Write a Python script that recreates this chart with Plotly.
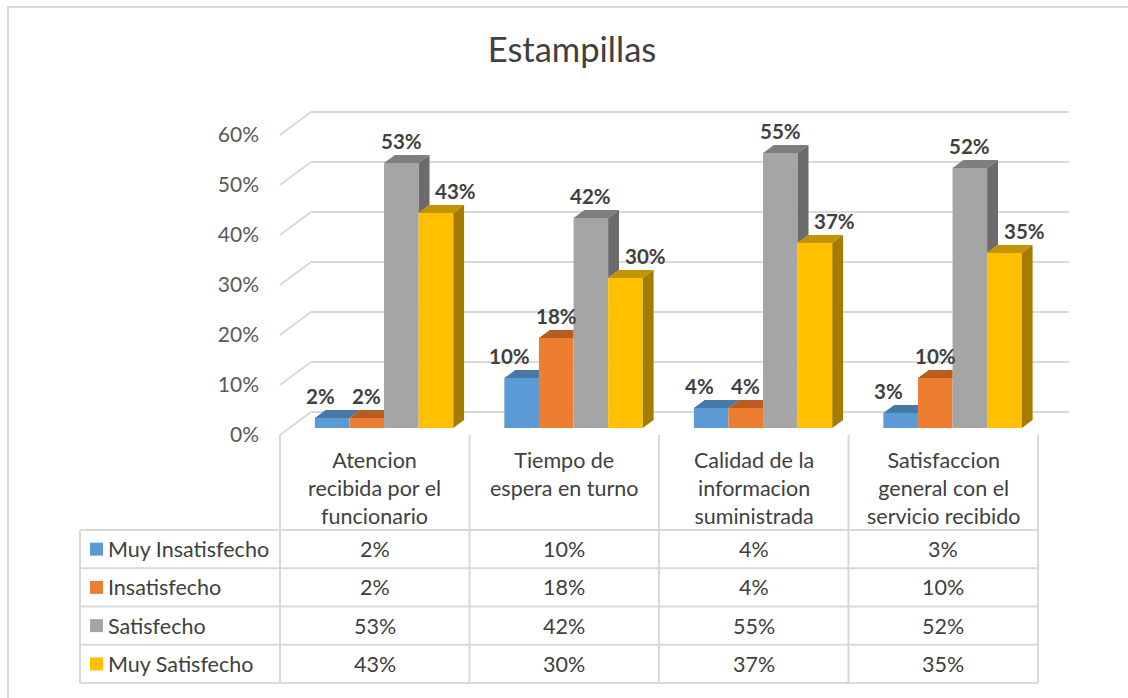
import plotly.graph_objects as go

# ---------------- data ----------------
title_text = "Estampillas"
categories = [
    "Atencion<br>recibida por el<br>funcionario",
    "Tiempo de<br>espera en turno",
    "Calidad de la<br>informacion<br>suministrada",
    "Satisfaccion<br>general con el<br>servicio recibido",
]
series_names = ["Muy Insatisfecho", "Insatisfecho", "Satisfecho", "Muy Satisfecho"]
muy_insatisfecho = [2, 10, 4, 3]
insatisfecho = [2, 18, 4, 10]
satisfecho = [53, 42, 55, 52]
muy_satisfecho = [43, 30, 37, 35]
y_tick_values = [0, 10, 20, 30, 40, 50, 60]
y_tick_labels = ["0%", "10%", "20%", "30%", "40%", "50%", "60%"]

series_values = [muy_insatisfecho, insatisfecho, satisfecho, muy_satisfecho]

# ---------------- style / geometry ----------------
front_colors = ["#5B9BD5", "#ED7D31", "#A5A5A5", "#FFC000"]
top_colors = ["#4679A8", "#B85C22", "#7E7E7E", "#C49300"]
side_colors = ["#3E6A93", "#A2511E", "#6B6B6B", "#A67C00"]
label_dx_px = [-12, 0, 0, 20]

W, H = 1128, 698
U = 189.5            # px per category
PXY = 5.0            # px per percent
X0_PX, Y0_PX = 280, 435
DX = 31 / U          # full depth offset (x data units)
DY = 23 / PXY        # full depth offset (y data units)
FRONT, BACK = 0.30, 0.65
BAR_W = 34.6 / U
PAD = (1 - 4 * BAR_W) / 2
S = FRONT * DY
ddx = (BACK - FRONT) * DX
ddy = (BACK - FRONT) * DY

ROW_PX = 38.25
HDR_BOTTOM_PX = 530
y2_top = (HDR_BOTTOM_PX - Y0_PX) / ROW_PX
y2_bottom = (HDR_BOTTOM_PX - H) / ROW_PX
TABLE_LEFT = (80 - X0_PX) / U
LINE = "#D9D9D9"
TXT = "#404040"
FONT = "Lato"
TABLE_FS = 21.5

fig = go.Figure()

n_cat = len(categories)
n_ser = len(series_names)

for j in range(n_ser):
    vals = series_values[j]
    lefts = [i + PAD + j * BAR_W + FRONT * DX for i in range(n_cat)]
    centers = [l + BAR_W / 2 for l in lefts]
    fig.add_trace(go.Bar(
        x=centers, y=vals, base=[S] * n_cat, width=BAR_W,
        marker=dict(color=front_colors[j], line=dict(width=0)),
        name=series_names[j], showlegend=False, hoverinfo="skip",
    ))
    tx, ty = [], []
    sx, sy = [], []
    for i in range(n_cat):
        a = vals[i]
        A = S + a
        x0 = lefts[i]
        x1 = x0 + BAR_W
        nxt = series_values[j + 1][i] if j + 1 < n_ser else None
        if nxt is not None and nxt >= a + ddy:
            tx += [x0, x1, x1, x0 + ddx, x0, None]
            ty += [A, A, A + ddy, A + ddy, A, None]
        else:
            tx += [x0, x1, x1 + ddx, x0 + ddx, x0, None]
            ty += [A, A, A + ddy, A + ddy, A, None]
        low = 0 if nxt is None else nxt
        if a > low:
            L = S + low
            sx += [x1, x1 + ddx, x1 + ddx, x1, x1, None]
            sy += [L, L + ddy, A + ddy, A, L, None]
    fig.add_trace(go.Scatter(x=tx, y=ty, mode="lines", fill="toself",
                             fillcolor=top_colors[j], line=dict(width=0),
                             showlegend=False, hoverinfo="skip"))
    if sx:
        fig.add_trace(go.Scatter(x=sx, y=sy, mode="lines", fill="toself",
                                 fillcolor=side_colors[j], line=dict(width=0),
                                 showlegend=False, hoverinfo="skip"))

shapes = []
for v in y_tick_values:
    shapes.append(dict(type="line", xref="x", yref="y", x0=DX, x1=n_cat + DX,
                       y0=v + DY, y1=v + DY, line=dict(color=LINE, width=2), layer="below"))
    shapes.append(dict(type="line", xref="x", yref="y", x0=0, x1=DX,
                       y0=v, y1=v + DY, line=dict(color=LINE, width=2), layer="below"))

for r in range(n_ser + 1):
    shapes.append(dict(type="line", xref="x", yref="y2", x0=TABLE_LEFT, x1=n_cat,
                       y0=-r, y1=-r, line=dict(color=LINE, width=2)))
shapes.append(dict(type="line", xref="x", yref="y2", x0=TABLE_LEFT, x1=TABLE_LEFT,
                   y0=0, y1=-n_ser, line=dict(color=LINE, width=2)))
for i in range(n_cat + 1):
    shapes.append(dict(type="line", xref="x", yref="y2", x0=i, x1=i,
                       y0=y2_top, y1=-n_ser, line=dict(color=LINE, width=2)))

shapes.append(dict(type="rect", xref="paper", yref="paper", x0=8 / W, x1=1.02,
                   y0=-0.02, y1=1 - 7 / H, line=dict(color=LINE, width=2)))

annotations = []
for j in range(n_ser):
    for i in range(n_cat):
        v = series_values[j][i]
        cx = i + PAD + j * BAR_W + FRONT * DX + BAR_W / 2 + label_dx_px[j] / U
        annotations.append(dict(x=cx, y=S + v, xref="x", yref="y", text=f"<b>{v}%</b>",
                                showarrow=False, yshift=22, yanchor="middle",
                                font=dict(family=FONT, size=20.5, color=TXT)))
for i, c in enumerate(categories):
    annotations.append(dict(x=i + 0.5, y=(HDR_BOTTOM_PX - 445) / ROW_PX, xref="x", yref="y2",
                            text=c, showarrow=False, xanchor="center", yanchor="top",
                            align="center", font=dict(family=FONT, size=TABLE_FS, color=TXT)))
for j in range(n_ser):
    annotations.append(dict(x=(106 - X0_PX) / U, y=-(j + 0.5), xref="x", yref="y2",
                            text=series_names[j], showarrow=False, xanchor="left",
                            yanchor="middle", font=dict(family=FONT, size=TABLE_FS, color=TXT)))
    for i in range(n_cat):
        annotations.append(dict(x=i + 0.5, y=-(j + 0.5), xref="x", yref="y2",
                                text=f"{series_values[j][i]}%", showarrow=False,
                                xanchor="center", yanchor="middle",
                                font=dict(family=FONT, size=TABLE_FS, color=TXT)))

fig.add_trace(go.Scatter(
    x=[(96.5 - X0_PX) / U] * n_ser, y=[-(j + 0.5) for j in range(n_ser)],
    xaxis="x", yaxis="y2", mode="markers",
    marker=dict(symbol="square", size=13, color=front_colors, line=dict(width=0)),
    showlegend=False, hoverinfo="skip"))

fig.update_layout(
    width=W, height=H,
    margin=dict(l=0, r=0, t=0, b=0),
    paper_bgcolor="white", plot_bgcolor="rgba(0,0,0,0)",
    barmode="overlay",
    showlegend=False,
    font=dict(family=FONT, color=TXT),
    title=dict(text=title_text, x=572 / W, xanchor="center", y=1 - 50 / H, yanchor="middle",
               font=dict(family=FONT, size=34.5, color=TXT)),
    xaxis=dict(range=[-X0_PX / U, (W - X0_PX) / U], domain=[0, 1], visible=False,
               fixedrange=True),
    yaxis=dict(range=[(Y0_PX - H) / PXY, Y0_PX / PXY], domain=[0, 1],
               anchor="free", position=X0_PX / W,
               tickvals=y_tick_values, ticktext=y_tick_labels,
               showgrid=False, zeroline=False, showline=False, ticks="",
               ticklabelstandoff=21,
               tickfont=dict(family=FONT, size=21, color="#595959"), fixedrange=True),
    yaxis2=dict(range=[y2_bottom, y2_top], domain=[0, (H - Y0_PX) / H], anchor="x",
                visible=False, fixedrange=True),
    shapes=shapes,
    annotations=annotations,
)

fig.write_html("out.html", config={"displayModeBar": False},
               post_script="document.body.style.margin='0';document.body.style.padding='0';")
